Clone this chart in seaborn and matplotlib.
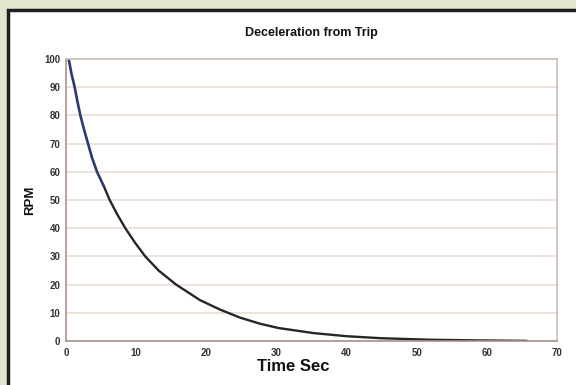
import matplotlib
matplotlib.use("Agg")
import matplotlib.pyplot as plt
import seaborn as sns
import pandas as pd
from matplotlib.patches import Rectangle

# Data
t_early = [0.38, 0.76, 1.24, 1.62, 2.05, 2.57, 3.14, 3.71, 4.42, 5.37]
rpm_early = [100, 95, 90, 85, 80, 75, 70, 65, 60, 55]
t_late = [5.37, 6.23, 7.28, 8.46, 9.8, 11.3, 13.2, 15.7, 19.1, 22.0, 24.8, 27.7,
          30.3, 35.3, 40.0, 44.8, 51.9, 59.0, 65.7]
rpm_late = [55, 50, 45, 40, 35, 30, 25, 20, 14.5, 11.1, 8.3, 6.1,
            4.6, 2.8, 1.7, 1.0, 0.45, 0.2, 0.05]
x_ticks = [0, 10, 20, 30, 40, 50, 60, 70]
y_ticks = [0, 10, 20, 30, 40, 50, 60, 70, 80, 90, 100]

df_early = pd.DataFrame({"t": t_early, "rpm": rpm_early})
df_late = pd.DataFrame({"t": t_late, "rpm": rpm_late})

sns.set_theme(style="white")
plt.rcParams['font.family'] = ['Liberation Sans', 'DejaVu Sans']

fig = plt.figure(figsize=(5.76, 3.85), dpi=100)
fig.patch.set_facecolor("#e3e5cf")
# white panel with dark frame
fig.patches.append(Rectangle((8/576, -0.2), 1.2, 1.2 - 10/385, transform=fig.transFigure,
                             facecolor="white", edgecolor="#1e1e1e", linewidth=2.5, zorder=-5))

ax = fig.add_axes([66/576, 1 - 341/385, (557 - 66)/576, (341 - 59)/385])
ax.set_facecolor("white")

sns.lineplot(data=df_late, x="t", y="rpm", ax=ax, color="#262626", linewidth=1.7, sort=False)
sns.lineplot(data=df_early, x="t", y="rpm", ax=ax, color="#2a3a72", linewidth=1.9, sort=False)

ax.set_xlim(0, 70)
ax.set_ylim(0, 100)
ax.set_xticks(x_ticks)
ax.set_yticks(y_ticks)
ax.set_xticklabels([str(v) for v in x_ticks], fontsize=7, color="#333333", fontweight="bold")
ax.set_yticklabels([str(v) for v in y_ticks], fontsize=7, color="#333333", fontweight="bold")
ax.tick_params(axis="x", length=0, pad=5)
ax.tick_params(axis="y", length=0, pad=4)

ax.yaxis.grid(True, color="#eadbd6", linewidth=1.2)
ax.xaxis.grid(False)
for side in ["left", "bottom"]:
    ax.spines[side].set_color("#a8928a")
    ax.spines[side].set_linewidth(1.2)
for side in ["top", "right"]:
    ax.spines[side].set_color("#cbbdb6")
    ax.spines[side].set_linewidth(1.2)

ax.set_xlabel("Time Sec", fontsize=12, fontweight="bold", color="#111111")
ax.xaxis.set_label_coords(0.462, -0.065)
ax.set_ylabel("RPM", fontsize=9.5, fontweight="bold", color="#111111", labelpad=6)
fig.text(311/576, 1 - 33/385, "Deceleration from Trip", ha="center", va="center",
         fontsize=9, fontweight="bold", color="#111111")

fig.savefig("out.png", dpi=100, facecolor=fig.get_facecolor())
